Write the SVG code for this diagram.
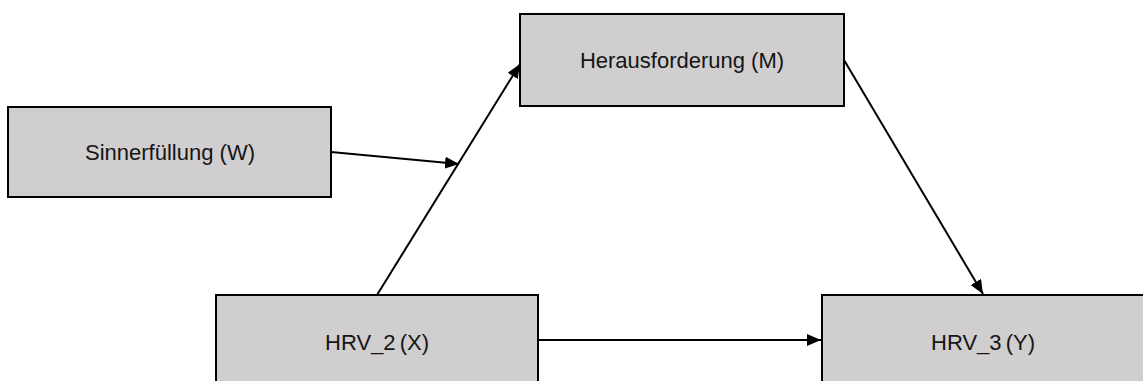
<svg xmlns="http://www.w3.org/2000/svg" width="1143" height="381" viewBox="0 0 1143 381">
  <defs>
    <marker id="arrow" viewBox="0 0 14 12" refX="14" refY="6" markerWidth="14" markerHeight="12" markerUnits="userSpaceOnUse" orient="auto">
      <path d="M0,0 L14,6 L0,12 Z" fill="#000"/>
    </marker>
    <style>
      .box { fill: #D0CECE; stroke: #000; stroke-width: 2; }
      .label { font-family: "Liberation Sans", Arial, sans-serif; font-size: 22px; fill: #151515; text-anchor: middle; }
      .edge { stroke: #000; stroke-width: 2; fill: none; marker-end: url(#arrow); }
    </style>
  </defs>
  <rect width="1143" height="381" fill="#fff"/>

  <g id="connectors">
    <!-- X to M -->
    <line class="edge" x1="377" y1="295" x2="520" y2="64"/>
    <!-- W moderates the X to M path -->
    <line class="edge" x1="331" y1="152" x2="459" y2="164"/>
    <!-- M to Y -->
    <line class="edge" x1="844" y1="60" x2="983" y2="294"/>
    <!-- X to Y -->
    <line class="edge" x1="538" y1="340" x2="821" y2="340"/>
  </g>

  <g id="node-w">
    <rect class="box" x="8" y="107" width="323" height="90"/>
    <text class="label" x="170" y="160">Sinnerfüllung (W)</text>
  </g>

  <g id="node-m">
    <rect class="box" x="520" y="14" width="324" height="92"/>
    <text class="label" x="682" y="68">Herausforderung (M)</text>
  </g>

  <g id="node-x">
    <rect class="box" x="216" y="295" width="322" height="92"/>
    <text class="label" x="377" y="350" word-spacing="-2">HRV_2 (X)</text>
  </g>

  <g id="node-y">
    <rect class="box" x="822" y="295" width="324" height="92"/>
    <text class="label" x="983" y="350" word-spacing="-2">HRV_3 (Y)</text>
  </g>
</svg>
